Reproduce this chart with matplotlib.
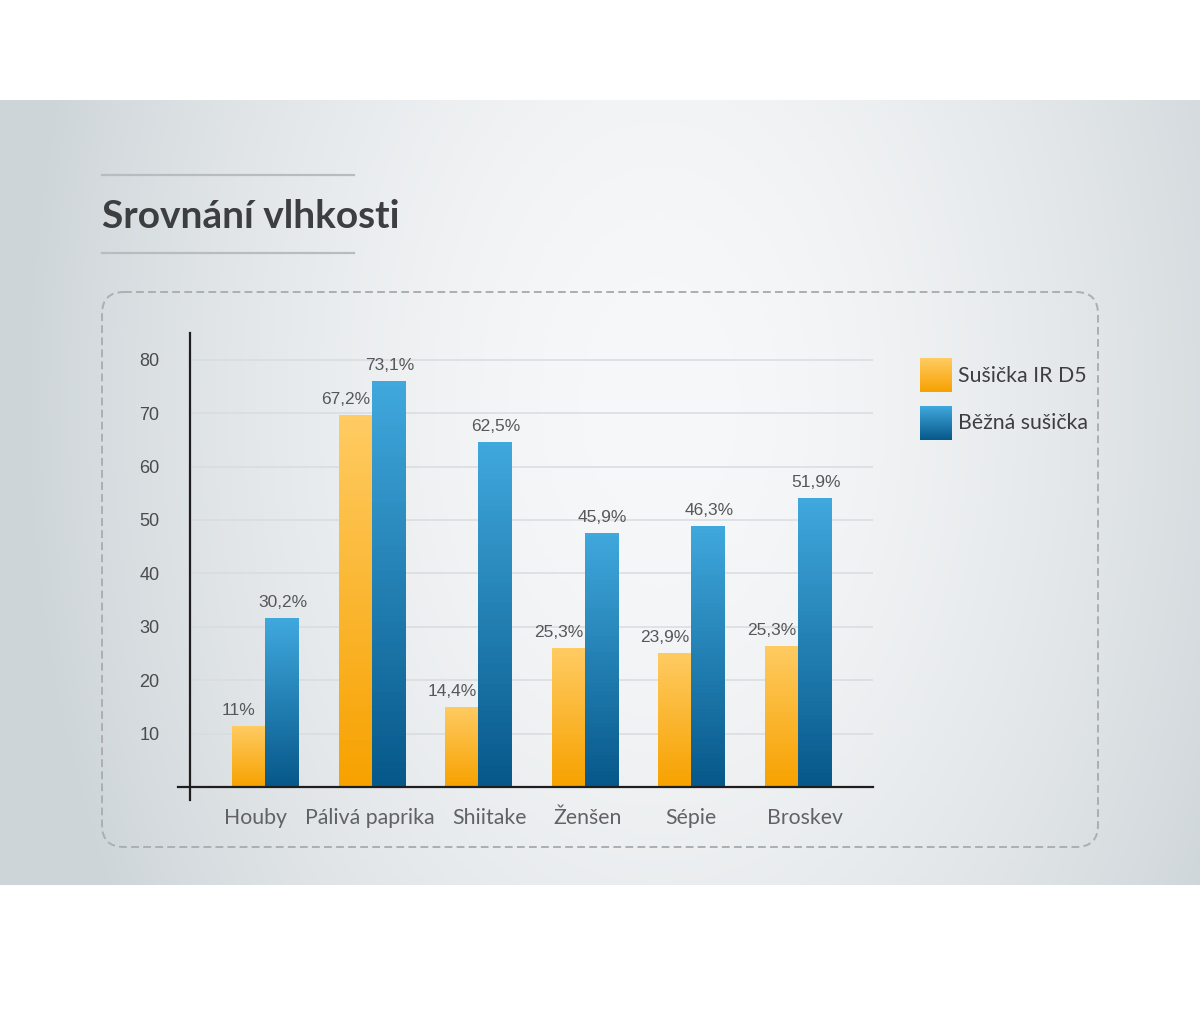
import numpy as np
import matplotlib
matplotlib.use("Agg")
import matplotlib.pyplot as plt
from matplotlib.patches import FancyBboxPatch
from matplotlib.colors import to_rgb
from matplotlib.transforms import ScaledTranslation

# ---------------- data ----------------
title = "Srovnání vlhkosti"
categories = ["Houby", "Pálivá paprika", "Shiitake", "Ženšen", "Sépie", "Broskev"]
series_names = ["Sušička IR D5", "Běžná sušička"]
ir_values = [11.4, 69.7, 15.0, 26.0, 25.1, 26.4]
std_values = [31.6, 76.0, 64.6, 47.6, 48.9, 54.1]
ir_labels = ["11%", "67,2%", "14,4%", "25,3%", "23,9%", "25,3%"]
std_labels = ["30,2%", "73,1%", "62,5%", "45,9%", "46,3%", "51,9%"]
yticks = [10, 20, 30, 40, 50, 60, 70, 80]

W, H = 1200, 1016
fig = plt.figure(figsize=(W / 100, H / 100), dpi=100)
fig.patch.set_facecolor("white")

# ---------------- background (pixel coordinates) ----------------
bg = fig.add_axes([0, 0, 1, 1])
bg.set_xlim(0, W)
bg.set_ylim(H, 0)
bg.axis("off")

band_top, band_bot = 100, 885
xx, yy = np.meshgrid(np.linspace(0, W, 300), np.linspace(band_top, band_bot, 200))
r = np.sqrt(((xx - 660) / 640) ** 2 + ((yy - 400) / 1000) ** 2)
t = np.clip(r, 0, 1) ** 1.7
light = np.array(to_rgb("#f7f8f9"))
dark = np.array(to_rgb("#ced5d9"))
img = light[None, None, :] * (1 - t[..., None]) + dark[None, None, :] * t[..., None]
bg.imshow(img, extent=[0, W, band_bot, band_top], aspect="auto", zorder=0)

# title and its rules
bg.plot([102, 354], [175, 175], color="#b9bcbf", lw=1.6, zorder=2)
bg.plot([102, 354], [253, 253], color="#b9bcbf", lw=1.6, zorder=2)
bg.text(102, 216, title, fontsize=28, fontweight="bold", color="#3d3e40",
        family=["Lato", "DejaVu Sans"], va="center", ha="left", zorder=3)

# dashed rounded frame
frame = FancyBboxPatch((102, 292), 996, 555, boxstyle="round,pad=0,rounding_size=22",
                       fill=False, edgecolor="#abafb2", lw=1.4, linestyle=(0, (4, 2.2)), zorder=2)
bg.add_patch(frame)

# gradients
def grad_img(top, bottom, n=64):
    a = np.array(to_rgb(top)); b = np.array(to_rgb(bottom))
    s = np.linspace(0, 1, n)[:, None]
    return (a * (1 - s) + b * s)[:, None, :]

ir_grad = grad_img("#ffcb62", "#f7a200")
std_grad = grad_img("#40a8dd", "#07588a")

# legend
leg_font = ["Lato", "DejaVu Sans"]
bg.imshow(ir_grad, extent=[920, 952, 392, 358], aspect="auto", zorder=3)
bg.imshow(std_grad, extent=[920, 952, 440, 406], aspect="auto", zorder=3)
bg.text(958, 376, series_names[0], fontsize=15.3, color="#3d3e40", family=leg_font, va="center", zorder=3)
bg.text(958, 423, series_names[1], fontsize=15.3, color="#3d3e40", family=leg_font, va="center", zorder=3)

# ---------------- chart axes ----------------
ax_l, ax_r, ax_b, ax_t = 190, 873, 787, 333
ax = fig.add_axes([ax_l / W, 1 - ax_b / H, (ax_r - ax_l) / W, (ax_b - ax_t) / H])
ax.patch.set_alpha(0)
ymax = 85.0
ax.set_ylim(0, ymax)
ax.set_xlim(-0.704, 5.704)
for s in ax.spines.values():
    s.set_visible(False)

x = np.arange(len(categories))
bw = 0.31
for v in yticks:
    ax.axhline(v, color="#d9dcdf", lw=1.1, zorder=1)

bars_ir = ax.bar(x - bw / 2, ir_values, bw, color="none", zorder=3)
bars_std = ax.bar(x + bw / 2, std_values, bw, color="none", zorder=3)
for bars, g in ((bars_ir, ir_grad), (bars_std, std_grad)):
    for b in bars:
        x0, w, h = b.get_x(), b.get_width(), b.get_height()
        im = ax.imshow(g, extent=[x0, x0 + w, 0, h], aspect="auto", zorder=3)
        im.set_clip_path(b)
ax.set_xlim(-0.704, 5.704)
ax.set_ylim(0, ymax)

num_font = ["Liberation Sans Narrow", "Liberation Sans", "DejaVu Sans"]
for b, lab in zip(bars_ir, ir_labels):
    ax.annotate(lab, (b.get_x() + b.get_width() / 2, b.get_height()), xytext=(-7, 11),
                textcoords="offset points", ha="center", va="center", fontsize=12.5,
                color="#555759", family=num_font, zorder=4)
for b, lab in zip(bars_std, std_labels):
    ax.annotate(lab, (b.get_x() + b.get_width() / 2, b.get_height()), xytext=(1, 11),
                textcoords="offset points", ha="center", va="center", fontsize=12.5,
                color="#555759", family=num_font, zorder=4)

# axis lines (extend slightly past the origin)
ax.plot([-0.704 - 12 / 106.6, 5.704], [0, 0], color="#1e1e1e", lw=1.6, clip_on=False, zorder=5)
ax.plot([-0.704, -0.704], [-13 / 5.34, ymax], color="#1e1e1e", lw=1.6, clip_on=False, zorder=5)

ax.set_yticks(yticks)
ax.set_yticklabels([str(v) for v in yticks], fontsize=13, color="#4a4b4d", family=num_font)
ax.tick_params(axis="y", length=0, pad=22)
ax.set_xticks(x)
ax.set_xticklabels(categories, fontsize=15.3, color="#606264", family=leg_font)
ax.tick_params(axis="x", length=0, pad=15)
# nudge first and third labels apart as in the original layout (pixels)
nudges = [-10, -2, 11, 3, 0, 7]
for lbl, dx in zip(ax.get_xticklabels(), nudges):
    lbl.set_transform(lbl.get_transform() + ScaledTranslation(dx / 100, 0, fig.dpi_scale_trans))

fig.savefig("out.png", dpi=100)
